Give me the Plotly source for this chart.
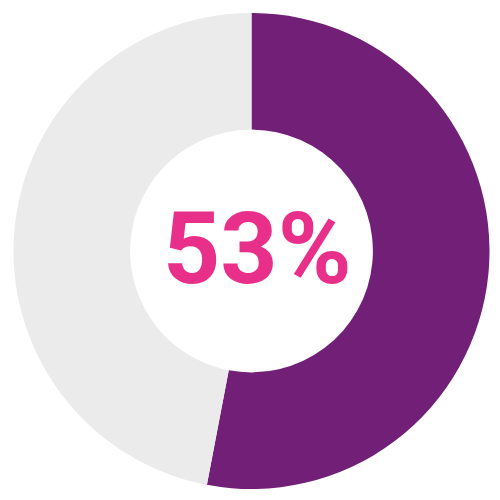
"""donut 53%"""

import plotly.graph_objects as go

labels = ["Oui", "Non"]
values = [53, 47]
colors = ["#722077", "#EBEBEB"]
center_text = "53%"

fig = go.Figure()
fig.add_trace(go.Pie(
    labels=labels,
    values=values,
    hole=0.51,
    sort=False,
    direction="clockwise",
    rotation=0,
    marker=dict(colors=colors, line=dict(width=0)),
    textinfo="none",
    hoverinfo="label+percent",
    showlegend=False,
))

# la page a une marge de 8px autour du graphique
fig.update_layout(
    width=500, height=500,
    margin=dict(l=5, r=18, t=5, b=19),
    paper_bgcolor="white",
    plot_bgcolor="white",
    annotations=[dict(
        text="<b>" + center_text + "</b>",
        x=0.5, y=0.5, xref="paper", yref="paper",
        xshift=6, yshift=3,
        showarrow=False,
        font=dict(family="Roboto", size=100, color="#E8308A"),
    )],
)

fig.write_html("out.html")
